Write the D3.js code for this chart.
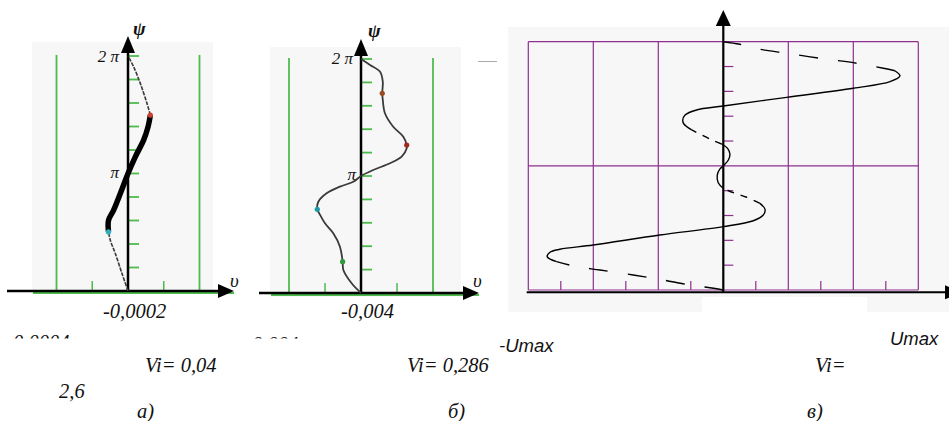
<!DOCTYPE html>
<html>
<head>
<meta charset="utf-8">
<script src="https://cdn.jsdelivr.net/npm/d3@7"></script>
<style>
    body { margin: 0; background: #fff; }
    svg { display: block; }
</style>
</head>
<body>
<div id="chart"></div>
<script>
// Données (psi en unités de pi, U en unités du graphe)
const psiTicks = [0.2, 0.4, 0.6, 0.8, 1.0, 1.2, 1.4, 1.6, 1.8, 2.0];

// Figure a)
const psiA = [0, 0.148, 0.319, 0.432, 0.503, 0.602, 0.688, 0.83, 1.0, 1.142, 1.284, 1.397, 1.497, 1.597, 1.767, 1.909, 2.0];
const uA = [0, -0.0000336, -0.000071, -0.000099, -0.000109, -0.000109, -0.0000806, -0.000043, 0,
    0.0000408, 0.0000873, 0.000112, 0.000125, 0.000106, 0.0000688, 0.0000313, 0];
const thickA = [4, 12];          // segment en trait épais
const markersA = [[4, '#2ab0c0'], [12, '#d04030']];
const gridA = [-0.0004, 0.0004];
const minorA = [-0.0002, 0.0002];

// Figure б)
const psiB = [0, 0.083, 0.197, 0.268, 0.396, 0.51, 0.596, 0.681, 0.715, 0.78, 0.852, 0.909, 0.951, 1.0,
    1.051, 1.109, 1.165, 1.237, 1.265, 1.336, 1.421, 1.536, 1.65, 1.707, 1.806, 1.891, 1.949, 2.0];
const uB = [0, -0.00052, -0.00098, -0.00102, -0.00117, -0.00154, -0.002, -0.00232, -0.00243, -0.00237,
    -0.00191, -0.00117, -0.00043, 0, 0.00068, 0.00161, 0.00226, 0.00254, 0.00254, 0.00235, 0.00179,
    0.00133, 0.00121, 0.00118, 0.00121, 0.00106, 0.0005, 0];
const markersB = [[3, '#2f9a3a'], [8, '#1f9aa8'], [18, '#a02a20'], [23, '#9a4a20']];
const gridB = [-0.004, 0.004];
const minorB = [-0.002, 0.002];

// Figure в)
const psiC = [0, 0.022, 0.040, 0.086, 0.121, 0.161, 0.188, 0.228, 0.268, 0.304, 0.328, 0.362, 0.443,
    0.510, 0.558, 0.604, 0.650, 0.698, 0.747, 0.784, 0.819, 0.864, 0.926, 0.975, 1.0, 1.047, 1.095,
    1.141, 1.176, 1.203, 1.249, 1.289, 1.337, 1.369, 1.410, 1.450, 1.482, 1.552, 1.625, 1.678, 1.724,
    1.766, 1.786, 1.831, 1.866, 1.907, 1.939, 1.979, 2.0];
const uC = [0, -0.085, -0.171, -0.325, -0.462, -0.632, -0.752, -0.855, -0.903, -0.889, -0.838, -0.667,
    -0.325, 0, 0.154, 0.205, 0.214, 0.188, 0.120, 0.051, 0, -0.026, -0.031, -0.017, 0, 0.026, 0.034,
    0.022, -0.008, -0.051, -0.111, -0.162, -0.202, -0.208, -0.196, -0.137, 0, 0.325, 0.667, 0.855,
    0.906, 0.880, 0.821, 0.667, 0.496, 0.325, 0.188, 0.085, 0];
// [début, fin, style]
const segmentsC = [[0, 7, 'long'], [7, 17, 'solid'], [17, 20, 'short'], [20, 28, 'solid'],
    [28, 31, 'short'], [31, 41, 'solid'], [41, 48, 'long']];
const gridC = [-1, -2 / 3, -1 / 3, 1 / 3, 2 / 3, 1];
const minorC = [-5 / 6, -1 / 2, -1 / 6, 1 / 6, 1 / 2, 5 / 6];
const gridPsiC = [0, 1, 2];

const GREEN = '#4cbb4c';
const PURPLE = '#8e2f8e';
const BG = '#f7f7f7';
const SERIF = '"Liberation Serif", "Times New Roman", "DejaVu Serif", serif';
const SANS = '"Liberation Sans", Arial, "DejaVu Sans", sans-serif';

const svg = d3.select('#chart').append('svg')
    .attr('width', 949)
    .attr('height', 421);

svg.append('rect').attr('width', 949).attr('height', 421).attr('fill', '#fff');

const zip = (ps, us) => ps.map((p, i) => ({ psi: p, u: us[i] }));

function arrowUp(g, x, tipY, half, len) {
    g.append('path')
        .attr('d', `M${x},${tipY} L${x - half},${tipY + len} L${x + half},${tipY + len} Z`)
        .attr('fill', '#000');
}
function arrowRight(g, tipX, y, half, len) {
    g.append('path')
        .attr('d', `M${tipX},${y} L${tipX - len},${y - half} L${tipX - len},${y + half} Z`)
        .attr('fill', '#000');
}

function addText(family, x, y, size, str, anchor) {
    return svg.append('text')
        .attr('font-family', family)
        .attr('font-style', 'italic')
        .attr('x', x)
        .attr('y', y)
        .attr('font-size', size)
        .attr('fill', '#111')
        .attr('text-anchor', anchor || 'start')
        .text(str);
}

// Petit panneau (a et б)
function drawSmallPanel(cfg) {
    const g = svg.append('g');
    const x = d3.scaleLinear().domain(cfg.grid).range(cfg.xRange);
    const y = d3.scaleLinear().domain([0, 2]).range(cfg.yRange);
    const x0 = x(0);

    g.append('rect')
        .attr('x', cfg.bg[0]).attr('y', cfg.bg[1])
        .attr('width', cfg.bg[2]).attr('height', cfg.bg[3])
        .attr('fill', BG);

    // lignes vertes
    g.selectAll('.gline').data(cfg.grid).join('line')
        .attr('x1', d => x(d)).attr('x2', d => x(d))
        .attr('y1', y(2) - 1).attr('y2', y(0) + 2)
        .attr('stroke', GREEN).attr('stroke-width', 1.8);
    g.selectAll('.mline').data(cfg.minor).join('line')
        .attr('x1', d => x(d)).attr('x2', d => x(d))
        .attr('y1', y(0) - 10).attr('y2', y(0))
        .attr('stroke', GREEN).attr('stroke-width', 1.5);
    g.append('line')
        .attr('x1', cfg.bg[0] + 1).attr('x2', cfg.axisEnd)
        .attr('y1', y(0) + 2).attr('y2', y(0) + 2)
        .attr('stroke', GREEN).attr('stroke-width', 2);
    g.selectAll('.ptick').data(psiTicks).join('line')
        .attr('x1', x0).attr('x2', x0 + 11)
        .attr('y1', d => y(d)).attr('y2', d => y(d))
        .attr('stroke', GREEN).attr('stroke-width', 1.8);

    // axes
    g.append('line')
        .attr('x1', cfg.axisStart).attr('x2', cfg.axisEnd - 12)
        .attr('y1', y(0)).attr('y2', y(0))
        .attr('stroke', '#000').attr('stroke-width', 2.5);
    arrowRight(g, cfg.axisEnd, y(0), 7, 16);
    g.append('line')
        .attr('x1', x0).attr('x2', x0)
        .attr('y1', y(0)).attr('y2', cfg.arrowTop + 12)
        .attr('stroke', '#000').attr('stroke-width', 2.5);
    arrowUp(g, x0, cfg.arrowTop, 7, 17);

    const line = d3.line()
        .x(d => x(d.u)).y(d => y(d.psi))
        .curve(d3.curveCatmullRom);
    const pts = zip(cfg.psi, cfg.u);

    if (cfg.thick) {
        const [a, b] = cfg.thick;
        [[0, a], [b, pts.length - 1]].forEach(([s, e]) => {
            g.append('path').datum(pts.slice(s, e + 1))
                .attr('d', line).attr('fill', 'none')
                .attr('stroke', '#3a3a3a').attr('stroke-width', 1.6)
                .attr('stroke-dasharray', '4,1.2');
        });
        g.append('path').datum(pts.slice(a, b + 1))
            .attr('d', line).attr('fill', 'none')
            .attr('stroke', '#000').attr('stroke-width', 5.5)
            .attr('stroke-linecap', 'butt');
    } else {
        g.append('path').datum(pts)
            .attr('d', line).attr('fill', 'none')
            .attr('stroke', '#3a3a3a').attr('stroke-width', 1.8);
    }

    g.selectAll('.dot').data(cfg.markers).join('circle')
        .attr('cx', d => x(pts[d[0]].u))
        .attr('cy', d => y(pts[d[0]].psi))
        .attr('r', 2.6)
        .attr('fill', d => d[1]);

    return { x, y };
}

drawSmallPanel({
    psi: psiA, u: uA, grid: gridA, minor: minorA,
    xRange: [56.5, 199.5], yRange: [291, 56],
    bg: [32, 42, 181, 252], axisStart: 7, axisEnd: 234, arrowTop: 36,
    thick: thickA, markers: markersA
});
drawSmallPanel({
    psi: psiB, u: uB, grid: gridB, minor: minorB,
    xRange: [289, 433], yRange: [293, 59],
    bg: [270, 47, 191, 250], axisStart: 259, axisEnd: 479, arrowTop: 39,
    markers: markersB
});

// textes des petits panneaux
addText(SERIF, 133, 35, 19, 'ψ').attr('font-weight', 'bold');
addText(SERIF, 230, 287, 19, 'υ');
addText(SERIF, 119, 62, 17, '2 π', 'end');
addText(SERIF, 119, 178, 17, 'π', 'end');
addText(SERIF, 103, 318, 20.5, '-0,0002');
addText(SERIF, 145, 372, 20.5, 'Vi= 0,04');
addText(SERIF, 59, 398, 20.5, '2,6');
addText(SERIF, 137, 418, 20.5, 'а)');

addText(SERIF, 368, 37, 19, 'ψ').attr('font-weight', 'bold');
addText(SERIF, 473, 287, 19, 'υ');
addText(SERIF, 353, 64, 17, '2 π', 'end');
addText(SERIF, 356, 180, 17, 'π', 'end');
addText(SERIF, 341, 318, 20.5, '-0,004');
addText(SERIF, 407, 372, 20.5, 'Vi= 0,286');
addText(SERIF, 448, 418, 20.5, 'б)');

// valeurs coupées en bas
const defs = svg.append('defs');
defs.append('clipPath').attr('id', 'clipCut')
    .append('rect').attr('x', 0).attr('y', 0).attr('width', 949).attr('height', 338.5);
addText(SERIF, 13, 349, 20.5, '0,0004').attr('clip-path', 'url(#clipCut)');
addText(SERIF, 252, 351, 20.5, '0,004').attr('clip-path', 'url(#clipCut)');

svg.append('line').attr('x1', 478).attr('x2', 497).attr('y1', 61.5).attr('y2', 61.5)
    .attr('stroke', '#aaa').attr('stroke-width', 1);

// Panneau в)
(function drawPanelC() {
    const g = svg.append('g');
    const x = d3.scaleLinear().domain([-1, 1]).range([528.3, 918.3]);
    const y = d3.scaleLinear().domain([0, 2]).range([290, 41.7]);
    const x0 = x(0);

    g.append('rect').attr('x', 508).attr('y', 27).attr('width', 441).attr('height', 270).attr('fill', BG);
    g.append('rect').attr('x', 508).attr('y', 297).attr('width', 194).attr('height', 15).attr('fill', BG);
    g.append('rect').attr('x', 867).attr('y', 297).attr('width', 82).attr('height', 15).attr('fill', BG);

    // grille violette
    g.selectAll('.vg').data(gridC).join('line')
        .attr('x1', d => x(d)).attr('x2', d => x(d))
        .attr('y1', y(2)).attr('y2', y(0))
        .attr('stroke', PURPLE).attr('stroke-width', 1.2);
    g.selectAll('.hg').data(gridPsiC).join('line')
        .attr('x1', x(-1)).attr('x2', x(1))
        .attr('y1', d => y(d)).attr('y2', d => y(d))
        .attr('stroke', PURPLE).attr('stroke-width', 1.2);
    g.selectAll('.mt').data(minorC).join('line')
        .attr('x1', d => x(d)).attr('x2', d => x(d))
        .attr('y1', y(0) - 9).attr('y2', y(0))
        .attr('stroke', PURPLE).attr('stroke-width', 1.2);
    g.selectAll('.pt').data(psiTicks.filter(d => d !== 1 && d !== 2)).join('line')
        .attr('x1', x0).attr('x2', x0 + 10)
        .attr('y1', d => y(d)).attr('y2', d => y(d))
        .attr('stroke', PURPLE).attr('stroke-width', 1.2);

    // courbe
    const line = d3.line()
        .x(d => x(d.u)).y(d => y(d.psi))
        .curve(d3.curveCatmullRom);
    const pts = zip(psiC, uC);
    const dash = { long: '19,20', short: '7,7', solid: null };
    segmentsC.forEach(([s, e, style]) => {
        g.append('path').datum(pts.slice(s, e + 1))
            .attr('d', line).attr('fill', 'none')
            .attr('stroke', '#000').attr('stroke-width', 1.4)
            .attr('stroke-dasharray', dash[style]);
    });

    // axes
    g.append('line')
        .attr('x1', 526.7).attr('x2', 949)
        .attr('y1', 292.3).attr('y2', 292.3)
        .attr('stroke', '#000').attr('stroke-width', 2);
    arrowRight(g, 962, 292.3, 7, 17);
    g.append('line')
        .attr('x1', x0).attr('x2', x0)
        .attr('y1', 292.3).attr('y2', 22)
        .attr('stroke', '#000').attr('stroke-width', 2.2);
    arrowUp(g, x0, 10, 7.5, 16);
})();

addText(SANS, 499, 352, 18.5, '-Umax');
addText(SANS, 890, 345, 18.5, 'Umax');
addText(SERIF, 815, 372, 20.5, 'Vi=');
addText(SERIF, 807, 418, 20.5, 'в)');
</script>
</body>
</html>
